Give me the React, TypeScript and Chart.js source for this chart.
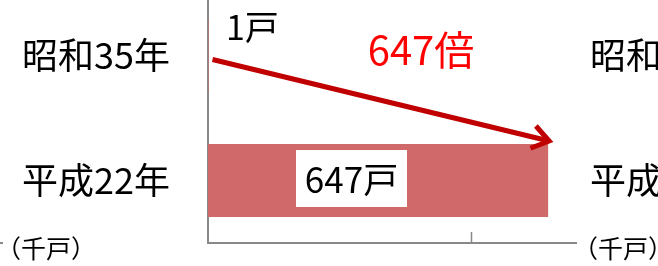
import React, { useEffect, useRef } from "react";
import { Chart, registerables } from "chart.js";

Chart.register(...registerables);

const categories = ["昭和35年", "平成22年"];
const households = [1, 647];
const valueLabels = ["1戸", "647戸"];
const ratioLabel = "647倍";
const unitLabel = "（千戸）";
const axisMin = 0;
const axisMax = 700;
const tickValues = [0, 500];

const FONT = '"Noto Sans CJK JP", "Noto Sans", sans-serif';
const GRAY = "#898989";
const BAR = "rgb(208,106,106)";
const TOP_OFFSET = 8;

const overlay = {
  id: "overlay",
  afterDraw(chart: any) {
    const { ctx, chartArea, scales } = chart;
    const xs = scales.x;
    const ys = scales.y;
    const meta = chart.getDatasetMeta(0);
    const bar1: any = meta.data[1];
    const barTop = bar1.y - bar1.height / 2;
    const y0 = ys.getPixelForValue(0);
    const y1 = ys.getPixelForValue(1);
    ctx.save();

    // inward tick marks
    ctx.strokeStyle = GRAY;
    ctx.lineWidth = 1.5;
    tickValues.forEach((v) => {
      if (v === axisMin) return;
      const px = Math.round(xs.getPixelForValue(v)) + 0.5;
      ctx.beginPath();
      ctx.moveTo(px, chartArea.bottom);
      ctx.lineTo(px, chartArea.bottom - 11);
      ctx.stroke();
    });

    // previous panel axis tail
    ctx.lineWidth = 2;
    ctx.beginPath();
    ctx.moveTo(0, chartArea.bottom);
    ctx.lineTo(3, chartArea.bottom);
    ctx.stroke();

    // arrow
    const sx = xs.getPixelForValue(households[0]) + 4;
    const sy = y0 + 4;
    const ex = xs.getPixelForValue(households[1]) + 1;
    const ey = barTop - 3;
    ctx.strokeStyle = "#C00000";
    ctx.lineWidth = 5;
    ctx.lineCap = "butt";
    ctx.beginPath();
    ctx.moveTo(sx, sy);
    ctx.lineTo(ex, ey);
    ctx.stroke();
    const th = Math.atan2(ey - sy, ex - sx);
    const phi = (35 * Math.PI) / 180;
    const L = 20;
    ctx.lineJoin = "miter";
    ctx.beginPath();
    ctx.moveTo(ex + L * Math.cos(th + Math.PI + phi), ey + L * Math.sin(th + Math.PI + phi));
    ctx.lineTo(ex, ey);
    ctx.lineTo(ex + L * Math.cos(th + Math.PI - phi), ey + L * Math.sin(th + Math.PI - phi));
    ctx.stroke();

    // value labels
    ctx.fillStyle = "#000";
    ctx.font = `34px ${FONT}`;
    ctx.textBaseline = "middle";
    ctx.textAlign = "left";
    ctx.fillText(valueLabels[0], chartArea.left + 18, y0 - 28);

    // white box with 647戸
    const bx = chartArea.left + 88;
    const by = barTop + 6;
    const bw = 111;
    const bh = 57;
    ctx.fillStyle = "#fff";
    ctx.fillRect(bx, by, bw, bh);
    ctx.fillStyle = "#000";
    ctx.font = `35px ${FONT}`;
    ctx.textAlign = "center";
    ctx.fillText(valueLabels[1], bx + bw / 2, by + bh / 2 + 1);

    // ratio label
    ctx.fillStyle = "#FF0000";
    ctx.font = `40px ${FONT}`;
    ctx.fillText(ratioLabel, chartArea.left + 213, y0 - 6);

    // unit labels
    ctx.fillStyle = "#000";
    ctx.font = `25px ${FONT}`;
    ctx.textAlign = "left";
    ctx.fillText(unitLabel, -4, chartArea.bottom + 5);
    ctx.fillText(unitLabel, chartArea.right - 3, chartArea.bottom + 5);

    // next panel's category labels
    ctx.font = `36px ${FONT}`;
    ctx.fillText(categories[0], chartArea.right + 14, y0);
    ctx.fillText(categories[1], chartArea.right + 14, y1);
    ctx.restore();
  },
};

export default function App() {
  const ref = useRef<HTMLCanvasElement | null>(null);
  useEffect(() => {
    if (!ref.current) return;
    const chart = new Chart(ref.current, {
      type: "bar",
      data: {
        labels: categories,
        datasets: [
          {
            data: households,
            backgroundColor: BAR,
            borderWidth: 0,
            barPercentage: 0.584,
            categoryPercentage: 1,
          },
        ],
      },
      options: {
        indexAxis: "y",
        animation: false,
        responsive: false,
        maintainAspectRatio: false,
        layout: { padding: { left: 0, right: 82, top: 1, bottom: 23 } },
        plugins: { legend: { display: false }, tooltip: { enabled: false } },
        scales: {
          x: {
            min: axisMin,
            max: axisMax,
            ticks: { display: false, stepSize: 500 },
            grid: { display: false, drawTicks: false },
            border: { display: true, color: GRAY, width: 2 },
            afterFit: (s: any) => {
              s.height = 0;
              s.paddingLeft = 0;
              s.paddingRight = 0;
            },
          },
          y: {
            z: 1,
            ticks: {
              color: "#000",
              padding: 38,
              font: { family: FONT, size: 36 },
            },
            grid: { display: false, drawTicks: false },
            border: { display: true, color: GRAY, width: 2 },
            afterFit: (s: any) => {
              s.width = 208;
              s.paddingTop = 0;
              s.paddingBottom = 0;
            },
          },
        },
      } as any,
      plugins: [overlay],
    });
    return () => chart.destroy();
  }, []);
  return (
    <div style={{ position: "fixed", left: 0, top: -TOP_OFFSET, width: 658, height: 266 + TOP_OFFSET, background: "#fff" }}>
      <canvas ref={ref} width={658} height={266 + TOP_OFFSET} style={{ display: "block" }} />
    </div>
  );
}
